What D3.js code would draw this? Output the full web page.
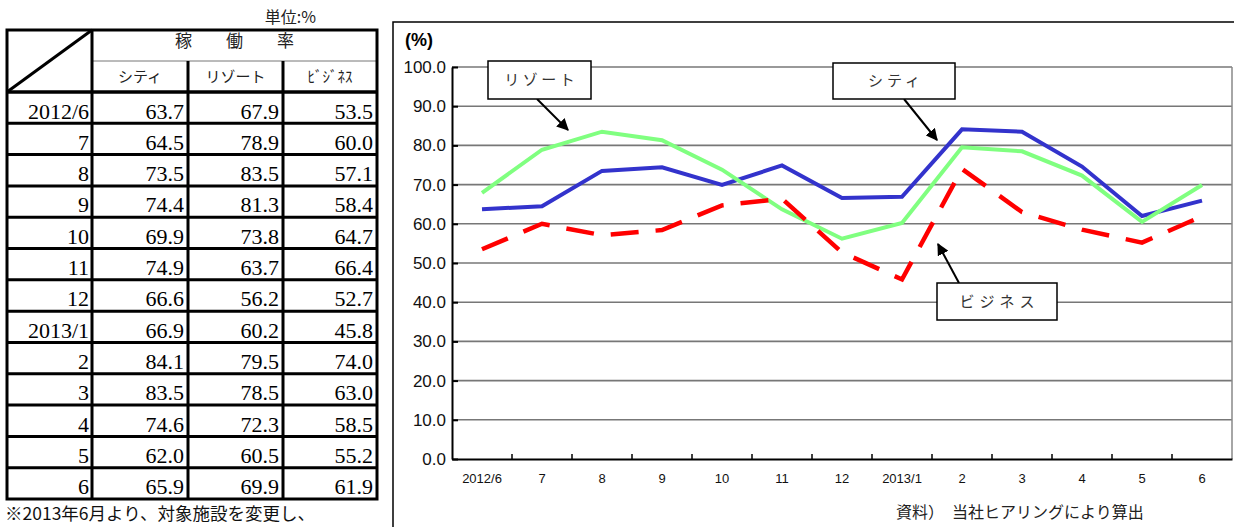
<!DOCTYPE html>
<html>
<head>
<meta charset="utf-8">
<script src="https://cdn.jsdelivr.net/npm/d3@7"></script>
<style>
  body { margin: 0; background: #fff; }
  svg { display: block; }
  .jp { font-family: "Noto Sans CJK JP", sans-serif; }
  .num { font-family: "Liberation Serif", serif; }
  .axis text { font-family: "Liberation Sans", Arial, sans-serif; fill: #111; }
</style>
</head>
<body>
<script>
const months = ["2012/6", "7", "8", "9", "10", "11", "12", "2013/1", "2", "3", "4", "5", "6"]
const city = [63.7, 64.5, 73.5, 74.4, 69.9, 74.9, 66.6, 66.9, 84.1, 83.5, 74.6, 62.0, 65.9]
const resort = [67.9, 78.9, 83.5, 81.3, 73.8, 63.7, 56.2, 60.2, 79.5, 78.5, 72.3, 60.5, 69.9]
const business = [53.5, 60.0, 57.1, 58.4, 64.7, 66.4, 52.7, 45.8, 74.0, 63.0, 58.5, 55.2, 61.9]
const headNames = ["シティ", "リゾート", "ﾋﾞｼﾞﾈｽ"]
const yTicks = [0, 10, 20, 30, 40, 50, 60, 70, 80, 90, 100]

const WIDTH = 1234
const HEIGHT = 527

const svg = d3.select("body")
    .append("svg")
    .attr("width", WIDTH)
    .attr("height", HEIGHT)

// ---------- table ----------
const T = { left: 7, top: 30, headMid: 61, body: 92, bottom: 499 }
const colEdges = [7, 92, 188, 283, 377]
const rowScale = d3.scaleBand().domain(months).range([T.body, T.bottom])
const table = svg.append("g")

const rows = table.selectAll(".row")
    .data(months)
    .enter()
    .append("g")
    .attr("transform", d => "translate(0," + rowScale(d) + ")")

rows.append("text")
    .attr("class", "num")
    .attr("x", colEdges[1] - 3)
    .attr("y", 26.5)
    .attr("text-anchor", "end")
    .attr("font-size", 22)
    .text(d => d)

const cols = [city, resort, business]
cols.forEach((vals, c) => {
    rows.append("text")
        .attr("class", "num")
        .attr("x", colEdges[c + 2] - 4)
        .attr("y", 26.5)
        .attr("text-anchor", "end")
        .attr("font-size", 22)
        .text((d, i) => vals[i].toFixed(1))
})

// row lines
table.selectAll(".hl")
    .data(months.slice(1))
    .enter()
    .append("line")
    .attr("x1", T.left)
    .attr("x2", colEdges[4])
    .attr("y1", d => rowScale(d))
    .attr("y2", d => rowScale(d))
    .attr("stroke", "#000")
    .attr("stroke-width", 3)

table.append("line")
    .attr("x1", colEdges[1]).attr("x2", colEdges[4])
    .attr("y1", T.headMid).attr("y2", T.headMid)
    .attr("stroke", "#777").attr("stroke-width", 1)

table.append("line")
    .attr("x1", T.left).attr("x2", colEdges[4])
    .attr("y1", T.body).attr("y2", T.body)
    .attr("stroke", "#000").attr("stroke-width", 3.5)

// vertical lines
table.selectAll(".vl")
    .data(colEdges.slice(1, 4))
    .enter()
    .append("line")
    .attr("x1", d => d).attr("x2", d => d)
    .attr("y1", (d, i) => i == 0 ? T.top : T.headMid)
    .attr("y2", T.bottom)
    .attr("stroke", "#000")
    .attr("stroke-width", 3)

table.append("rect")
    .attr("x", T.left).attr("y", T.top)
    .attr("width", colEdges[4] - T.left).attr("height", T.bottom - T.top)
    .attr("fill", "none").attr("stroke", "#000").attr("stroke-width", 3)

table.append("line")
    .attr("x1", T.left).attr("y1", T.body)
    .attr("x2", colEdges[1]).attr("y2", T.top)
    .attr("stroke", "#000").attr("stroke-width", 3)

table.append("text")
    .attr("class", "jp")
    .attr("x", (colEdges[1] + colEdges[4]) / 2)
    .attr("y", 47)
    .attr("text-anchor", "middle")
    .attr("font-size", 17)
    .attr("fill", "#222")
    .text("稼　　働　　率")

table.selectAll(".head")
    .data(headNames)
    .enter()
    .append("text")
    .attr("class", "jp")
    .attr("x", (d, i) => (colEdges[i + 1] + colEdges[i + 2]) / 2)
    .attr("y", 82)
    .attr("text-anchor", "middle")
    .attr("font-size", 15)
    .attr("fill", "#222")
    .text(d => d)

svg.append("text")
    .attr("class", "jp")
    .attr("x", 316)
    .attr("y", 23)
    .attr("text-anchor", "end")
    .attr("font-size", 16)
    .attr("fill", "#222")
    .text("単位:%")

svg.append("text")
    .attr("class", "jp")
    .attr("x", 5)
    .attr("y", 520)
    .attr("font-size", 17.5)
    .attr("fill", "#111")
    .text("※2013年6月より、対象施設を変更し、")

// ---------- chart ----------
const P = { left: 452, right: 1232, top: 67, bottom: 459 }

svg.append("rect")
    .attr("x", 393).attr("y", 22)
    .attr("width", 900).attr("height", 600)
    .attr("fill", "#fff").attr("stroke", "#000").attr("stroke-width", 1.5)

const xScale = d3.scaleBand().domain(months).range([P.left, P.right])
const xMid = d => xScale(d) + xScale.bandwidth() / 2
const yScale = d3.scaleLinear().domain([0, 100]).range([P.bottom, P.top])

svg.append("g")
    .selectAll("line")
    .data(yTicks.slice(1))
    .enter()
    .append("line")
    .attr("x1", P.left).attr("x2", P.right)
    .attr("y1", d => yScale(d)).attr("y2", d => yScale(d))
    .attr("stroke", "#777").attr("stroke-width", 1.6)

svg.append("line")
    .attr("x1", P.right).attr("x2", P.right)
    .attr("y1", P.top).attr("y2", P.bottom)
    .attr("stroke", "#888").attr("stroke-width", 1.5)

const yAxis = d3.axisLeft(yScale)
    .tickValues(yTicks)
    .tickFormat(d3.format(".1f"))
    .tickSizeInner(-6)
    .tickSizeOuter(0)
    .tickPadding(6)

const yG = svg.append("g")
    .attr("class", "axis")
    .attr("transform", "translate(" + P.left + ",0)")
    .call(yAxis)
yG.selectAll("text").attr("font-size", 17)
yG.select(".domain").attr("stroke-width", 2)
yG.selectAll(".tick line").attr("stroke-width", 2)

const xAxis = d3.axisBottom(xScale).tickSize(0).tickPadding(15)
const xG = svg.append("g")
    .attr("class", "axis")
    .attr("transform", "translate(0," + P.bottom + ")")
    .call(xAxis)
xG.selectAll("text").attr("font-size", 13)
xG.select(".domain").attr("stroke-width", 2)

xG.selectAll(".bt")
    .data(months.slice(0, -1))
    .enter()
    .append("line")
    .attr("x1", d => xScale(d) + xScale.bandwidth())
    .attr("x2", d => xScale(d) + xScale.bandwidth())
    .attr("y1", 0).attr("y2", -5)
    .attr("stroke", "#000").attr("stroke-width", 1.5)

svg.append("text")
    .attr("x", 405)
    .attr("y", 46)
    .attr("font-family", "Liberation Sans, Arial, sans-serif")
    .attr("font-weight", "bold")
    .attr("font-size", 18)
    .text("(%)")

const line = d3.line()
    .x((d, i) => xMid(months[i]))
    .y(d => yScale(d))

svg.append("path")
    .datum(city)
    .attr("d", line)
    .attr("fill", "none")
    .attr("stroke", "#3333cc")
    .attr("stroke-width", 4)

svg.append("path")
    .datum(resort)
    .attr("d", line)
    .attr("fill", "none")
    .attr("stroke", "#80ff80")
    .attr("stroke-width", 4)

svg.append("path")
    .datum(business)
    .attr("d", line)
    .attr("fill", "none")
    .attr("stroke", "#ff0000")
    .attr("stroke-width", 4.5)
    .attr("stroke-dasharray", "28,17")

// ---------- callouts ----------
svg.append("defs")
    .append("marker")
    .attr("id", "arrow")
    .attr("viewBox", "0 0 10 10")
    .attr("refX", 9).attr("refY", 5)
    .attr("markerWidth", 6).attr("markerHeight", 6)
    .attr("markerUnits", "strokeWidth")
    .attr("orient", "auto")
    .append("path")
    .attr("d", "M0,0 L10,5 L0,10 z")
    .attr("fill", "#000")

const callouts = [
    { label: "リゾート", box: [488, 61, 103, 38], from: [537, 99], to: [568, 130], spacing: 3.5 },
    { label: "シティ", box: [833, 63, 122, 36], from: [904, 99], to: [937, 140], spacing: 4 },
    { label: "ビジネス", box: [937, 283, 120, 37], from: [959, 283], to: [938, 244], spacing: 5 }
]

callouts.forEach(c => {
    svg.append("line")
        .attr("x1", c.from[0]).attr("y1", c.from[1])
        .attr("x2", c.to[0]).attr("y2", c.to[1])
        .attr("stroke", "#000").attr("stroke-width", 2)
        .attr("marker-end", "url(#arrow)")
    svg.append("rect")
        .attr("x", c.box[0]).attr("y", c.box[1])
        .attr("width", c.box[2]).attr("height", c.box[3])
        .attr("fill", "#fff").attr("stroke", "#000").attr("stroke-width", 1.5)
    svg.append("text")
        .attr("class", "jp")
        .attr("x", c.box[0] + c.box[2] / 2 + c.spacing / 2)
        .attr("y", c.box[1] + c.box[3] / 2 + 5)
        .attr("text-anchor", "middle")
        .attr("font-size", 15)
        .attr("letter-spacing", c.spacing)
        .attr("fill", "#333")
        .text(c.label)
})

svg.append("text")
    .attr("class", "jp")
    .attr("x", 896)
    .attr("y", 518)
    .attr("font-size", 16)
    .attr("fill", "#222")
    .text("資料）　当社ヒアリングにより算出")
</script>
</body>
</html>
